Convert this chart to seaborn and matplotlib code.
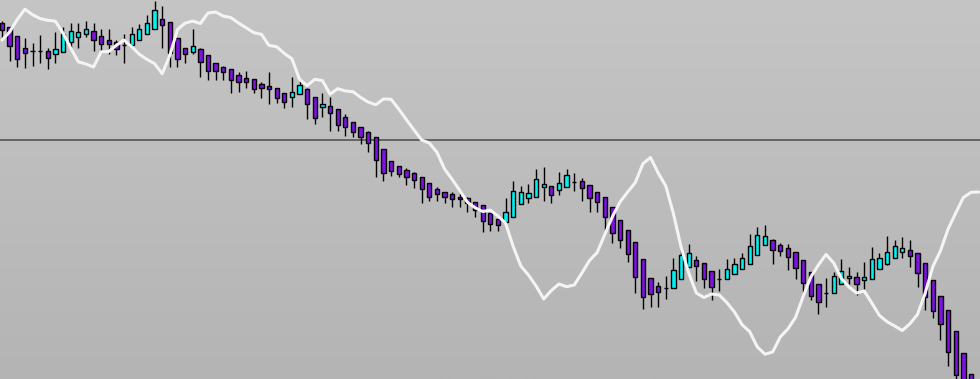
import numpy as np
import pandas as pd
import matplotlib
matplotlib.use("Agg")
import matplotlib.pyplot as plt
import seaborn as sns

# ---- data (price units) ----
opens = [376.7, 372.7, 364, 351.7, 349.3, 349.3, 349, 345.7, 347.7, 357.7,
         362.7, 365.7, 369, 364, 360, 357.7, 355, 354.7, 359.7, 365.7,
         370.7, 380.7, 377.7, 361.7, 351.7, 348.3, 350.7, 344.7, 336.7, 332.7,
         330.7, 324.7, 321.7, 320.7, 315.7, 313.7, 311.7, 306.7, 302.7, 305.7,
         311, 302.7, 292.7, 294, 290.7, 282.7, 277.7, 272.7, 267.7, 262.7,
         250.7, 239, 233.7, 230, 226.7, 222.7, 216.7, 210.7, 207.7, 205.7,
         202.7, 201.7, 198.3, 194.7, 186.7, 180.7, 177.7, 182.7, 195.7, 201.7,
         203.3, 212.7, 213.7, 209.7, 212.7, 218.3, 218.7, 214.7, 207.7, 202.7,
         192.7, 179.7, 169.7, 157.7, 140.7, 121.7, 113.7, 111.7, 111.7, 120.7,
         132.7, 139.7, 136.7, 128.7, 120.7, 120.7, 125.7, 130.7, 135.7, 144.7,
         154.7, 159.7, 154.7, 151.7, 147.7, 139.7, 127.7, 115.7, 107.3, 106.7,
         115.7, 121.7, 122.7, 119.7, 120.7, 130.7, 135.7, 141.7, 147.7, 149.7,
         146.7, 136.7, 119.7, 103.7, 89.7, 68.7, 46.7, 25.7]
highs = [379.3, 373, 364, 362.3, 357.3, 365, 351.7, 367.7, 372.7, 376.7,
         376.7, 379.3, 376.7, 370.7, 370.7, 360, 366, 372.7, 376, 385,
         399, 394, 377.7, 361.7, 351.7, 370.7, 351.7, 344.7, 336.7, 334.3,
         330.7, 328, 329, 320.7, 318.3, 328.3, 311.7, 306.7, 323.3, 319,
         311.7, 302.7, 306.7, 303.3, 290.7, 285.7, 278.3, 272.7, 269.3, 262.7,
         250.7, 239, 233.7, 232.5, 228.3, 222.7, 216.7, 213.3, 207.7, 207.7,
         206.7, 202.7, 198.3, 194.7, 186.7, 180.7, 201.7, 219, 214, 216,
         231, 233, 213.7, 227.7, 230.7, 226.7, 221.7, 214.7, 207.7, 202.7,
         192.7, 179.7, 169.7, 157.7, 140.7, 121.7, 117.7, 123.7, 141.7, 152.7,
         156, 143.7, 136.7, 128.7, 130.7, 140.7, 141.7, 146.7, 165.7, 172.7,
         174.7, 160.7, 156.7, 155.7, 147.7, 139.7, 127.7, 115.7, 121.7, 127.7,
         140.7, 132.7, 127.7, 137.7, 152.7, 146.7, 164, 160, 162.7, 160,
         146.7, 136.7, 119.7, 103.7, 89.7, 68.7, 46.7, 25.7]
lows = [362.5, 339.3, 333.3, 331.7, 334.3, 336.7, 330.7, 336.7, 347.7, 351.7,
        351.7, 362.7, 349.3, 347, 346, 345, 336.7, 354.7, 359.7, 365.7,
        370.7, 351.7, 333.3, 333.3, 337.3, 345.7, 323.3, 320, 320, 320,
        306.7, 308.3, 311.7, 306.7, 302.3, 295.7, 297.5, 291.7, 292.7, 305.7,
        280.7, 275.7, 283.3, 269.3, 269.3, 264.3, 263.3, 256, 247.7, 222.7,
        219.3, 224.3, 222.7, 215.5, 211.7, 197.3, 199.3, 199.3, 196.7, 193.3,
        193.3, 187.7, 183.3, 168.3, 169.3, 169.3, 177.7, 182.7, 195.7, 196.7,
        203.3, 199.3, 196.7, 204.7, 212.7, 208.7, 199.3, 187.7, 187.7, 169.7,
        156.7, 151.7, 137.7, 106.7, 91, 93.3, 93.3, 100.7, 111.7, 120.7,
        132.7, 118.7, 111.7, 99.7, 109, 120.7, 125.7, 130.7, 135.7, 144.7,
        154.7, 135.7, 143.7, 129.7, 120.7, 107.7, 99.7, 85.7, 93.3, 106.7,
        115.7, 115.7, 104.7, 110.7, 120.7, 130.7, 134.7, 141.7, 141.7, 132.7,
        112.7, 89.7, 81.7, 59.7, 33.7, 10, -5, -20]
closes = [370, 354, 340.7, 346.7, 349.3, 349.3, 341.7, 350.7, 366, 369,
          367.7, 370.7, 360, 356, 355.7, 350.7, 355, 365.7, 370.7, 376.7,
          390, 374.7, 346.7, 340.7, 345.7, 353.7, 337.7, 328.7, 328.7, 327.7,
          319.7, 318.3, 318.3, 310.7, 311.7, 310.7, 301.7, 298.3, 308.3, 315,
          295.7, 281.7, 295.7, 287.3, 275, 272.7, 268.3, 262.7, 256.7, 239.7,
          227.3, 229, 226, 222.7, 220, 210.7, 203.3, 205.7, 202.7, 200.7,
          200.7, 196.7, 190, 178.7, 175.7, 174.7, 187.7, 208.7, 207.7, 206.7,
          220.7, 215.7, 204.7, 216.7, 224.7, 218.3, 211.7, 201.7, 197.7, 182.7,
          166.7, 159.7, 145.7, 123.3, 102.7, 105.7, 107.7, 111.7, 129.7, 144.7,
          146.7, 133.7, 120.7, 112.7, 120.7, 130.7, 135.7, 141.7, 153.7, 164.7,
          163.7, 149.7, 148.7, 142.7, 131.7, 116.7, 103.7, 97.7, 107.3, 123.7,
          128.7, 123.7, 115.7, 122.7, 140.7, 141.7, 147.7, 153.7, 151.7, 143.7,
          126.7, 102.7, 88.7, 75.7, 47.7, 24.7, 5, -10]
oscillator = [360, 368, 380.5, 390.8, 385.3, 381.4, 379.7, 378.8, 367, 352,
              338.2, 336, 333, 348.2, 348.5, 354.8, 359.9, 353.3, 345.7, 340.6,
              336.4, 326.3, 344.7, 370.5, 376.9, 378.9, 376.5, 387, 388, 383.9,
              382.4, 377, 372.2, 367.4, 365.7, 354.5, 353.3, 346.6, 341.2, 320.6,
              314.4, 320.7, 319.4, 305.8, 311.3, 309, 308.3, 302.6, 297.9, 295.3,
              301, 300.7, 290.9, 280.3, 270, 260, 257, 247.8, 231, 220.6,
              209.5, 197.8, 192.3, 188.5, 189.8, 184, 176.8, 153.5, 134, 125,
              114, 101, 109.5, 116, 113.3, 115, 127, 139.5, 147.5, 165.5,
              183.3, 198, 208, 217.4, 236.3, 242.5, 227, 214, 186.3, 153,
              127, 107, 102.5, 106, 105, 97.5, 88, 75.3, 68.3, 53,
              45.8, 48, 63, 71, 82.6, 103.5, 122.8, 135, 145.6, 137,
              121.7, 113, 107, 109, 97, 84.5, 78.3, 74, 69.5, 76.3,
              85.7, 107, 133.3, 149.2, 171, 187, 202.5, 207.7, 208]
level = 260.5

UP = "#00f2f2"
DOWN = "#7e12e0"

sns.set_style("white")
fig = plt.figure(figsize=(9.8, 3.79), dpi=100)
ax = fig.add_axes([0, 0, 1, 1])

n = len(opens)
idx = np.arange(n)
df = pd.DataFrame({"i": idx, "open": opens, "high": highs, "low": lows, "close": closes})
osc_df = pd.DataFrame({"i": np.arange(len(oscillator)), "osc": oscillator})

xmin, xmax = -0.262, 128.18
ymin, ymax = 21, 400

# gradient background
grad = np.linspace(0, 1, 256).reshape(-1, 1)
top = np.array([197, 197, 197]) / 255.0
bot = np.array([180, 180, 180]) / 255.0
img = top[None, None, :] * (1 - grad[:, :, None]) + bot[None, None, :] * grad[:, :, None]
ax.imshow(img, extent=[xmin, xmax, ymin, ymax], aspect="auto", origin="upper", zorder=0)

ax.axhline(level, color="#4a4a4a", lw=1.1, zorder=1)

# wicks
ax.vlines(df["i"], df["low"], df["high"], color="black", lw=1.0, zorder=2)
# bodies
bottoms = np.minimum(df["open"], df["close"])
heights = np.abs(df["close"] - df["open"])
colors = [UP if c > o else DOWN for o, c in zip(df["open"], df["close"])]
ax.bar(df["i"], heights, bottom=bottoms, width=0.56, color=colors,
       edgecolor="black", linewidth=1.0, zorder=3)

sns.lineplot(data=osc_df, x="i", y="osc", ax=ax, color="#f4f4f4", lw=2.2,
             zorder=4, legend=False)

ax.set_xlim(xmin, xmax)
ax.set_ylim(ymin, ymax)
ax.axis("off")
fig.savefig("out.png", dpi=100)
